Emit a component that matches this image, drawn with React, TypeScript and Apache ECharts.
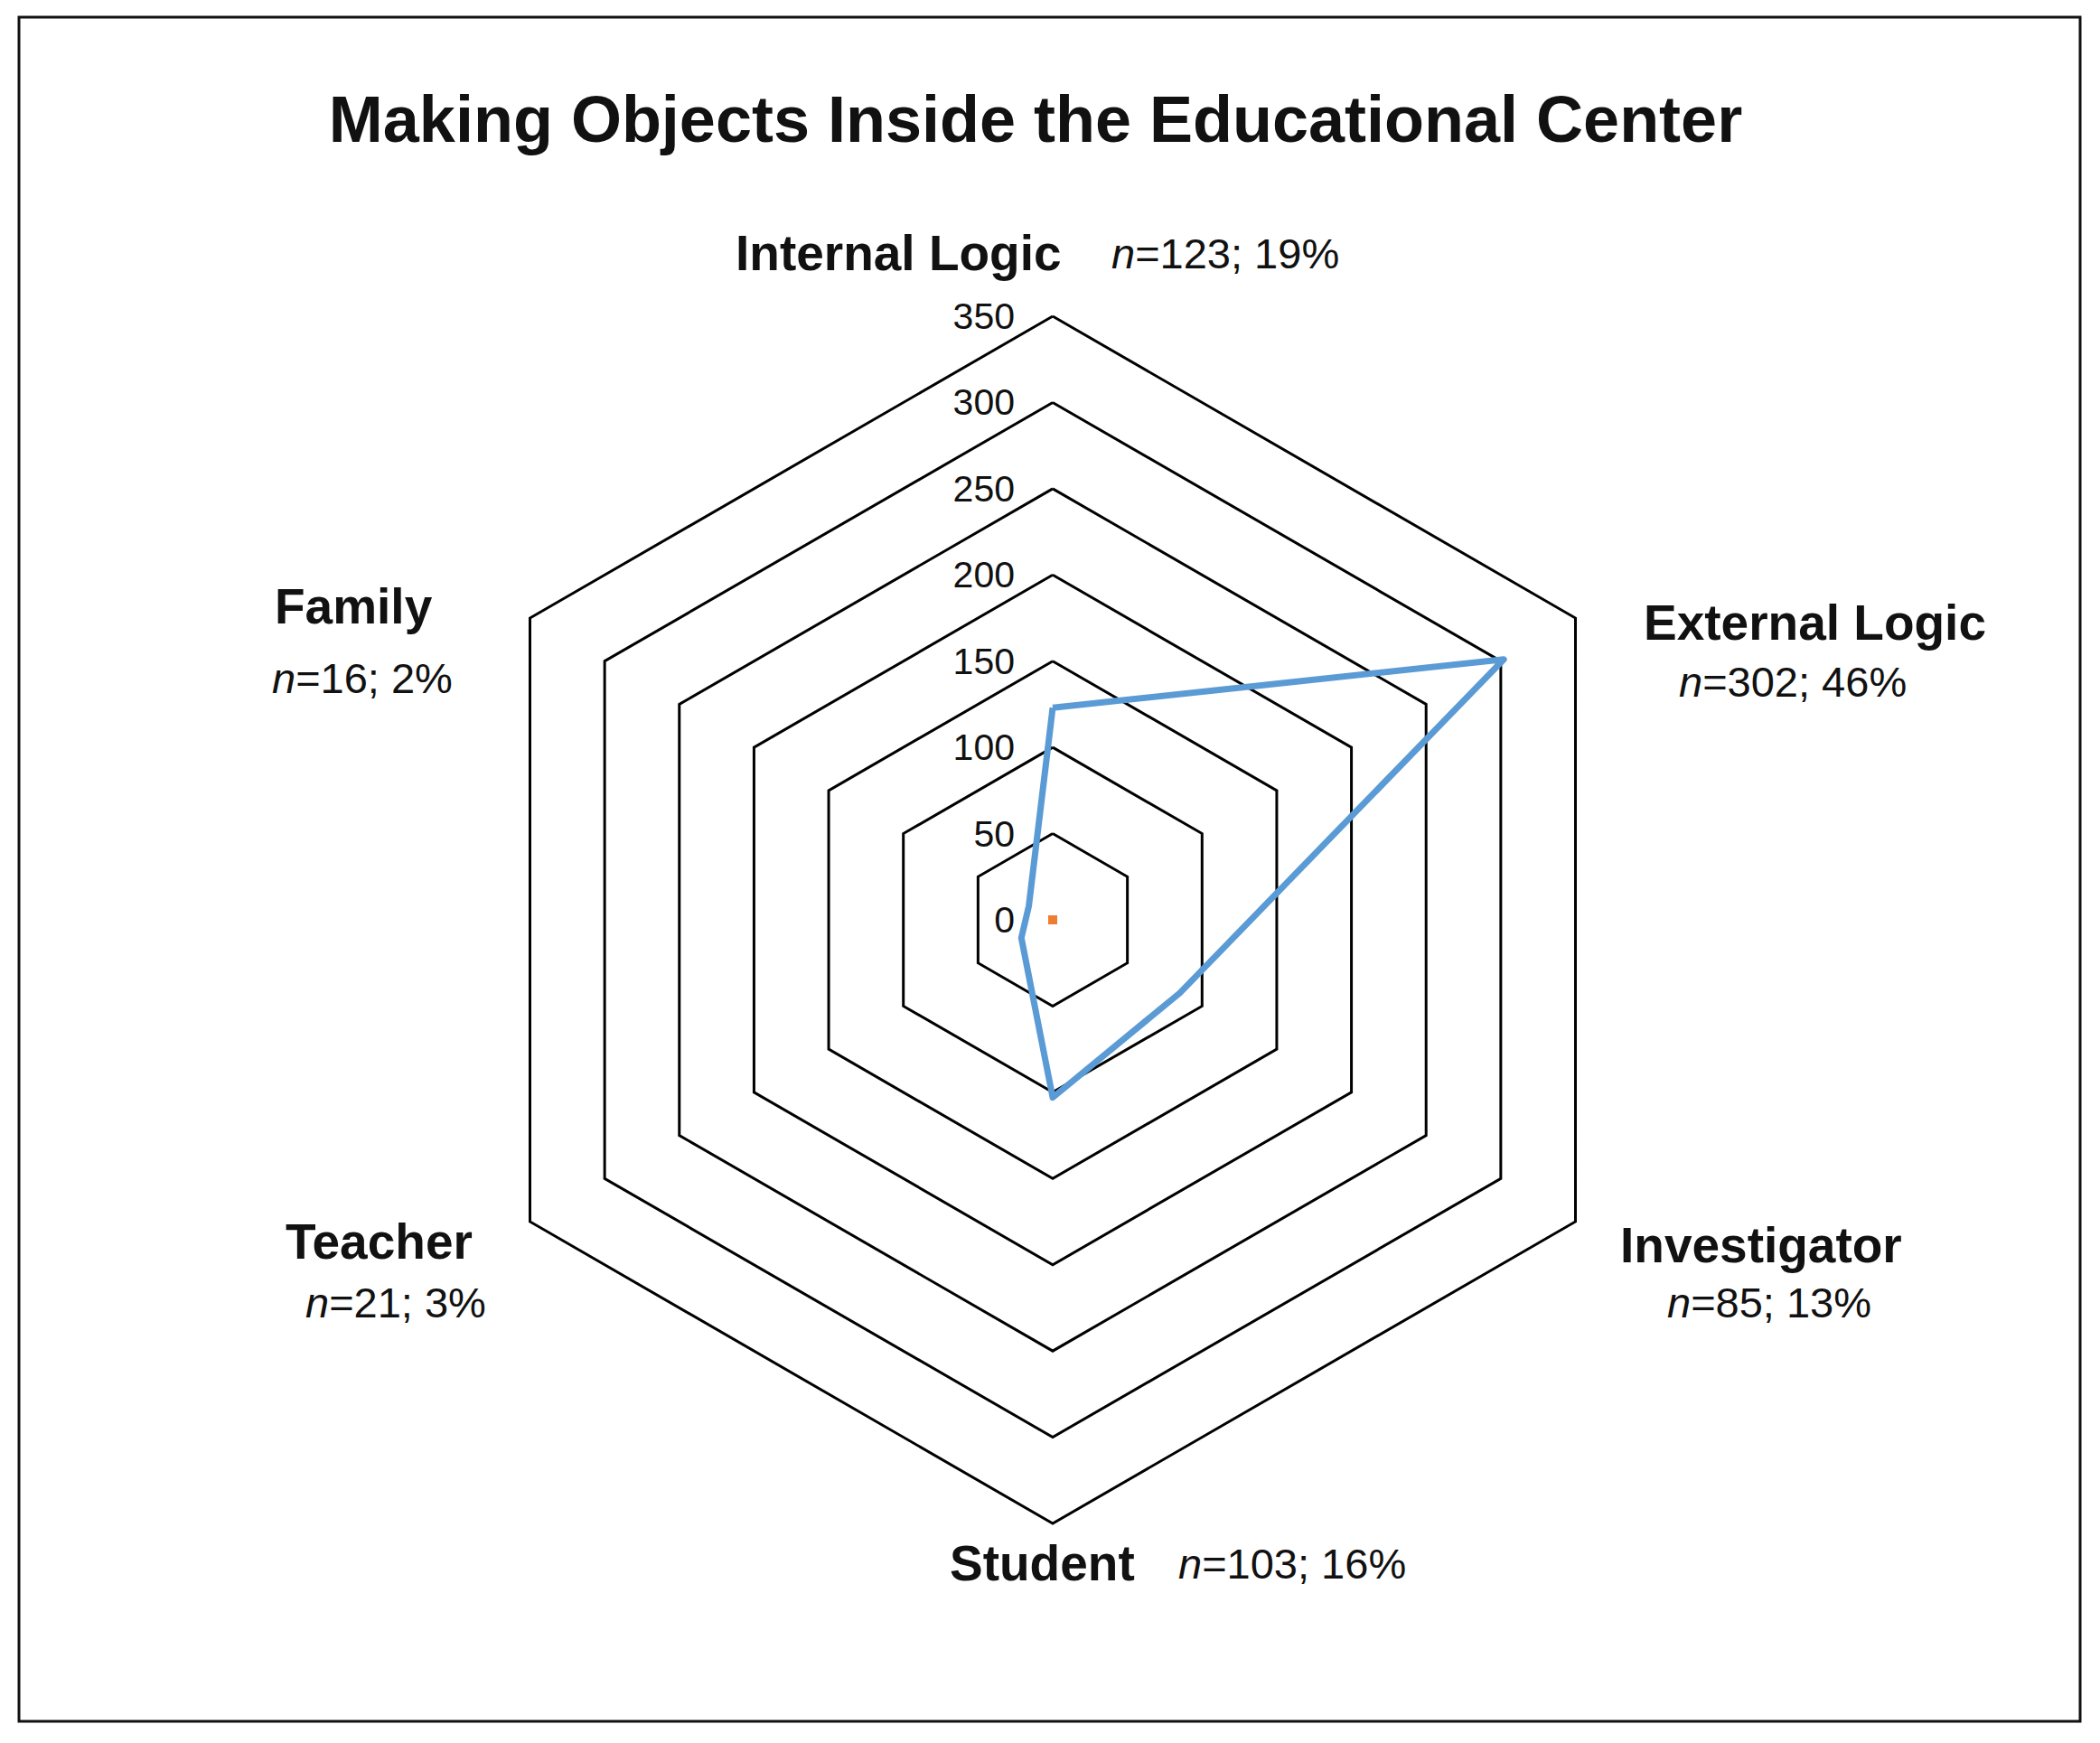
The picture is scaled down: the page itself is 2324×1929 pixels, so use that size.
import React, { useEffect, useRef } from "react";
import * as echarts from "echarts";

// ---- Data ----
const categories = ["Internal Logic", "Family", "Teacher", "Student", "Investigator", "External Logic"];
const counts = [123, 16, 21, 103, 85, 302];
const percents = [19, 2, 3, 16, 13, 46];
const series2 = [0, 0, 0, 0, 0, 0];
const axisMax = 350;
const axisSplits = 7;
const title = "Making Objects Inside the Educational Center";

// ---- Layout (styling only) ----
const W = 2324;
const H = 1929;
const CX = 1165;
const CY = 1018;
const R = 668;
const FONT = "'Liberation Sans', Arial, sans-serif";
// label placement: [nameX, nameY, statsX, statsY] (left edge, vertical middle)
const labelPos: number[][] = [
  [814, 280, 1230, 280],
  [304, 671, 301, 750],
  [316, 1374, 338, 1441],
  [1051, 1730, 1304, 1730],
  [1793, 1378, 1845, 1441],
  [1819, 689, 1858, 754],
];

export default function App() {
  const ref = useRef<HTMLDivElement>(null);
  useEffect(() => {
    document.body.style.margin = "0";
    if (!ref.current) return;
    const chart = echarts.init(ref.current, undefined, { renderer: "svg" });

    const labelGraphics: any[] = [];
    categories.forEach((name, i) => {
      const p = labelPos[i];
      labelGraphics.push({
        type: "text",
        x: p[0],
        y: p[1],
        style: {
          text: name,
          fontFamily: FONT,
          fontSize: 55,
          fontWeight: "bold",
          fill: "#111",
          verticalAlign: "middle",
          align: "left",
        },
      });
      labelGraphics.push({
        type: "text",
        x: p[2],
        y: p[3],
        style: {
          text: `{i|n}{r|=${counts[i]}; ${percents[i]}%}`,
          verticalAlign: "middle",
          align: "left",
          rich: {
            i: { fontFamily: FONT, fontSize: 47, fontStyle: "italic", fill: "#111", color: "#111" },
            r: { fontFamily: FONT, fontSize: 47, fill: "#111", color: "#111" },
          },
        },
      });
    });

    chart.setOption({
      animation: false,
      backgroundColor: "#fff",
      graphic: [
        {
          type: "rect",
          shape: { x: 21, y: 19, width: 2281, height: 1886 },
          style: { fill: "none", stroke: "#111", lineWidth: 3 },
        },
        {
          type: "text",
          x: 1146,
          y: 132,
          style: {
            text: title,
            fontFamily: FONT,
            fontSize: 72,
            fontWeight: "bold",
            fill: "#111",
            align: "center",
            verticalAlign: "middle",
          },
        },
        ...labelGraphics,
      ],
      radar: {
        center: [CX, CY],
        radius: R,
        startAngle: 90,
        shape: "polygon",
        splitNumber: axisSplits,
        indicator: categories.map((name, i) => ({
          name,
          min: 0,
          max: axisMax,
          ...(i === 0
            ? {
                axisLabel: {
                  show: true,
                  color: "#111",
                  fontSize: 41,
                  fontFamily: FONT,
                  margin: 42,
                },
              }
            : {}),
        })),
        axisName: { show: false },
        axisLine: { show: false },
        axisTick: { show: false },
        axisLabel: { show: false },
        splitLine: { lineStyle: { color: "#000", width: 3 } },
        splitArea: { show: false },
      },
      series: [
        {
          type: "radar",
          data: [
            {
              name: "Series 1",
              value: counts,
              symbol: "none",
              lineStyle: { color: "#5B9BD5", width: 7 },
              itemStyle: { color: "#5B9BD5" },
            },
            {
              name: "Series 2",
              value: series2,
              symbol: "rect",
              symbolSize: 10,
              lineStyle: { color: "#ED7D31", width: 4 },
              itemStyle: { color: "#ED7D31" },
            },
          ],
        },
      ],
    });
    return () => chart.dispose();
  }, []);
  return <div ref={ref} style={{ width: W, height: H }} />;
}
